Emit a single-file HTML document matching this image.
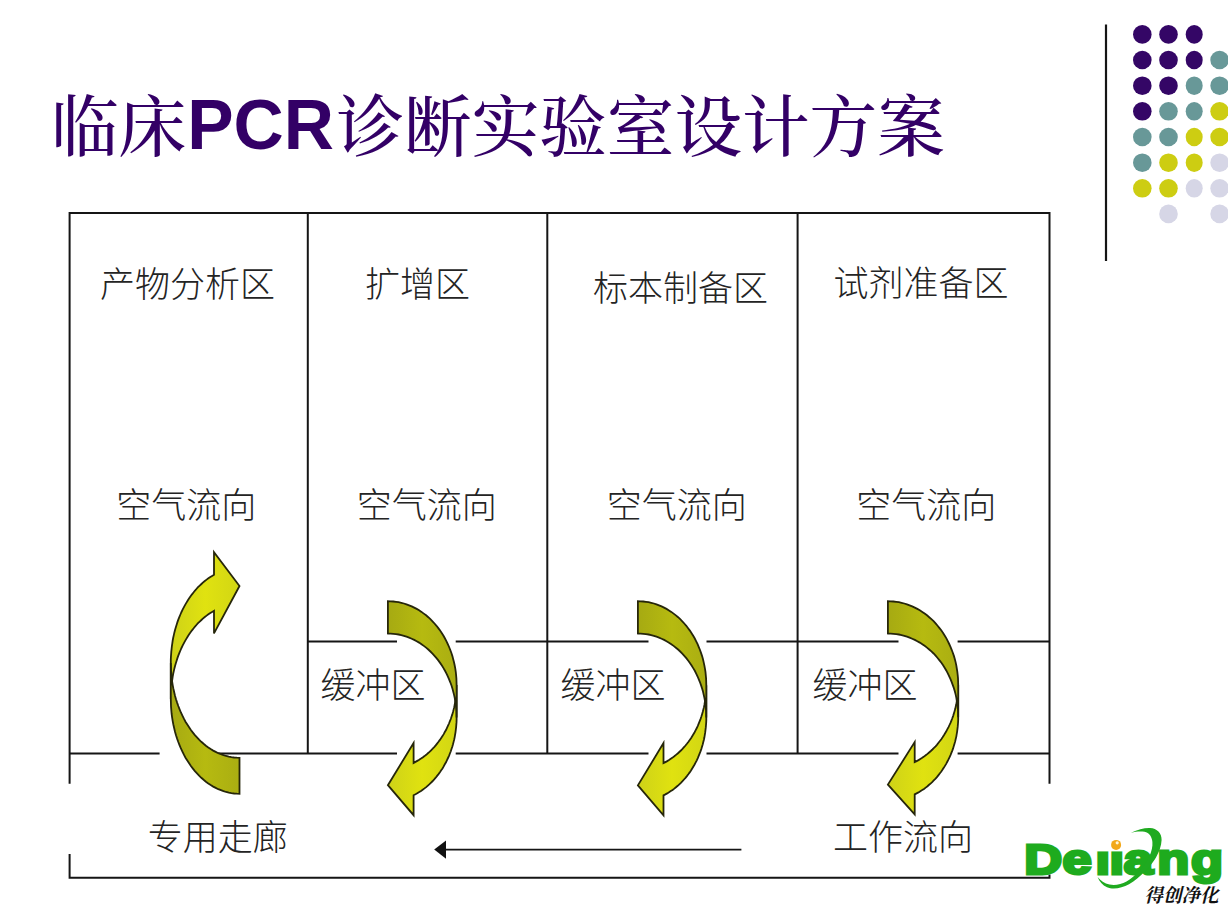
<!DOCTYPE html>
<html lang="zh-CN">
<head>
<meta charset="utf-8">
<title>临床PCR诊断实验室设计方案</title>
<style>
html,body{margin:0;padding:0;background:#fff;}
body{width:1228px;height:910px;overflow:hidden;position:relative;}
svg{display:block;position:absolute;left:0;top:0;}
.lb{font-family:"Liberation Sans","Noto Sans CJK SC",sans-serif;font-weight:300;fill:#242424;}
.title{font-family:"Liberation Sans","Noto Serif CJK SC",serif;fill:#330066;font-size:67.6px;}
.title .cn{font-weight:500;}
.title .en{font-weight:700;font-size:69.5px;}
.logo{font-family:"Liberation Sans",sans-serif;font-weight:700;fill:#1eab1e;stroke:#1eab1e;stroke-width:3.0px;stroke-linejoin:miter;}
.brush{font-family:"Liberation Serif","Noto Serif CJK SC",serif;font-weight:700;fill:#111;font-style:italic;}
</style>
</head>
<body>
<svg width="1228" height="910" viewBox="0 0 1228 910">
<defs>
<linearGradient id="gl" x1="0" y1="0" x2="1" y2="0"><stop offset="0" stop-color="#ced218"/><stop offset="0.5" stop-color="#e0e210"/><stop offset="1" stop-color="#d2d614"/></linearGradient>
<linearGradient id="gd" x1="0" y1="0" x2="1" y2="0"><stop offset="0" stop-color="#a6aa12"/><stop offset="0.5" stop-color="#b6ba10"/><stop offset="1" stop-color="#aaae12"/></linearGradient>
</defs>
<rect width="1228" height="910" fill="#ffffff"/>
<text x="51" y="149" class="title"><tspan class="cn" dy="1.5">临床</tspan><tspan class="en" dy="-1.5" dx="1">PCR</tspan><tspan class="cn" dy="1.5" dx="2.5">诊断实验室设计方案</tspan></text>
<path d="M1106 24.5 V261" stroke="#151515" stroke-width="2.2" fill="none"/>
<g>
<ellipse cx="1142.3" cy="34.4" rx="9.3" ry="9.3" fill="#340666"/>
<ellipse cx="1168.5" cy="34.4" rx="9.3" ry="9.3" fill="#340666"/>
<ellipse cx="1194.2" cy="34.4" rx="8.5" ry="9.3" fill="#340666"/>
<ellipse cx="1142.3" cy="60.0" rx="9.3" ry="9.3" fill="#340666"/>
<ellipse cx="1168.5" cy="60.0" rx="9.3" ry="9.3" fill="#340666"/>
<ellipse cx="1194.2" cy="60.0" rx="8.5" ry="9.3" fill="#340666"/>
<ellipse cx="1219.6" cy="60.0" rx="9.3" ry="9.3" fill="#689898"/>
<ellipse cx="1142.3" cy="85.7" rx="9.3" ry="9.3" fill="#340666"/>
<ellipse cx="1168.5" cy="85.7" rx="9.3" ry="9.3" fill="#340666"/>
<ellipse cx="1194.2" cy="85.7" rx="8.5" ry="9.3" fill="#689898"/>
<ellipse cx="1219.6" cy="85.7" rx="9.3" ry="9.3" fill="#689898"/>
<ellipse cx="1142.3" cy="111.3" rx="9.3" ry="9.3" fill="#340666"/>
<ellipse cx="1168.5" cy="111.3" rx="9.3" ry="9.3" fill="#689898"/>
<ellipse cx="1194.2" cy="111.3" rx="8.5" ry="9.3" fill="#689898"/>
<ellipse cx="1219.6" cy="111.3" rx="9.3" ry="9.3" fill="#cdcd12"/>
<ellipse cx="1142.3" cy="137.0" rx="9.3" ry="9.3" fill="#689898"/>
<ellipse cx="1168.5" cy="137.0" rx="9.3" ry="9.3" fill="#689898"/>
<ellipse cx="1194.2" cy="137.0" rx="8.5" ry="9.3" fill="#cdcd12"/>
<ellipse cx="1219.6" cy="137.0" rx="9.3" ry="9.3" fill="#cdcd12"/>
<ellipse cx="1142.3" cy="162.7" rx="9.3" ry="9.3" fill="#689898"/>
<ellipse cx="1168.5" cy="162.7" rx="9.3" ry="9.3" fill="#cdcd12"/>
<ellipse cx="1194.2" cy="162.7" rx="8.5" ry="9.3" fill="#cdcd12"/>
<ellipse cx="1219.6" cy="162.7" rx="9.3" ry="9.3" fill="#d6d6e6"/>
<ellipse cx="1142.3" cy="188.3" rx="9.3" ry="9.3" fill="#cdcd12"/>
<ellipse cx="1168.5" cy="188.3" rx="9.3" ry="9.3" fill="#cdcd12"/>
<ellipse cx="1194.2" cy="188.3" rx="8.5" ry="9.3" fill="#d6d6e6"/>
<ellipse cx="1219.6" cy="188.3" rx="9.3" ry="9.3" fill="#d6d6e6"/>
<ellipse cx="1168.5" cy="213.9" rx="9.3" ry="9.3" fill="#d6d6e6"/>
<ellipse cx="1219.6" cy="213.9" rx="9.3" ry="9.3" fill="#d6d6e6"/>
</g>

<g stroke="#151515" stroke-width="2" fill="none">
<path d="M69.6 783.8 V212.9 H1049.5 V783.8"/>
<path d="M307.8 212.9 V753.5"/>
<path d="M547.3 212.9 V753.5"/>
<path d="M797.6 212.9 V753.5"/>
<path d="M69.6 753.5 H159.6 M218 753.5 H397 M455.7 753.5 H648.5 M706.5 753.5 H898.5 M957.6 753.5 H1049.5"/>
<path d="M307.8 641.5 H397 M455.7 641.5 H648.5 M706.5 641.5 H898.5 M957.6 641.5 H1049.5"/>
<path d="M69.6 854.1 V877.7 H1049.5 V874.5"/>
<path d="M445 849.6 H741.4" stroke-width="1.8"/>
</g>
<path d="M434.2 849.6 L446 840.4 V858.8 Z" fill="#111"/>

<text x="187.5" y="297" text-anchor="middle" class="lb" font-size="35" >产物分析区</text>
<text x="417.5" y="297" text-anchor="middle" class="lb" font-size="35" >扩增区</text>
<text x="680.5" y="301" text-anchor="middle" class="lb" font-size="35" >标本制备区</text>
<text x="921" y="296" text-anchor="middle" class="lb" font-size="35" >试剂准备区</text>
<text x="186.2" y="518" text-anchor="middle" class="lb" font-size="35" >空气流向</text>
<text x="426.8" y="518" text-anchor="middle" class="lb" font-size="35" >空气流向</text>
<text x="676.8" y="518" text-anchor="middle" class="lb" font-size="35" >空气流向</text>
<text x="926.3" y="518" text-anchor="middle" class="lb" font-size="35" >空气流向</text>
<text x="373" y="698" text-anchor="middle" class="lb" font-size="35" >缓冲区</text>
<text x="613" y="698" text-anchor="middle" class="lb" font-size="35" >缓冲区</text>
<text x="865" y="698" text-anchor="middle" class="lb" font-size="35" >缓冲区</text>
<text x="217.8" y="850" text-anchor="middle" class="lb" font-size="35" >专用走廊</text>
<text x="903" y="850" text-anchor="middle" class="lb" font-size="35" >工作流向</text>
<path d="M170.8 698.9 L170.8 696.1 L170.9 693.3 L171.1 690.4 L171.3 687.6 L171.6 684.8 L171.9 682.0 L172.3 679.3 L172.7 676.5 L173.2 673.8 L173.8 671.1 L174.4 668.4 L175.1 665.7 L175.9 663.1 L176.7 660.5 L177.5 657.9 L178.4 655.4 L179.4 652.9 L180.4 650.5 L181.5 648.0 L182.6 645.7 L183.8 643.4 L185.0 641.1 L186.3 638.9 L187.6 636.7 L189.0 634.6 L190.4 632.6 L191.8 630.6 L193.3 628.7 L194.8 626.8 L196.4 625.0 L198.0 623.2 L199.7 621.6 L201.4 620.0 L203.1 618.4 L204.8 617.0 L206.6 615.6 L208.4 614.3 L210.3 613.0 L212.1 611.9 L214.0 610.8 L214.0 633.4 L239.5 586.0 L214.0 552.2 L214.0 574.8 L214.0 574.8 L212.1 575.9 L210.3 577.0 L208.4 578.3 L206.6 579.6 L204.8 581.0 L203.1 582.4 L201.4 584.0 L199.7 585.6 L198.0 587.2 L196.4 589.0 L194.8 590.8 L193.3 592.7 L191.8 594.6 L190.4 596.6 L189.0 598.6 L187.6 600.7 L186.3 602.9 L185.0 605.1 L183.8 607.4 L182.6 609.7 L181.5 612.0 L180.4 614.5 L179.4 616.9 L178.4 619.4 L177.5 621.9 L176.7 624.5 L175.9 627.1 L175.1 629.7 L174.4 632.4 L173.8 635.1 L173.2 637.8 L172.7 640.5 L172.3 643.3 L171.9 646.0 L171.6 648.8 L171.3 651.6 L171.1 654.4 L170.9 657.3 L170.8 660.1 L170.8 662.9 Z" fill="url(#gl)" stroke="#26260a" stroke-width="1.8" stroke-linejoin="miter"/>
<path d="M239.5 757.8 L236.8 757.7 L234.1 757.5 L231.4 757.1 L228.8 756.6 L226.1 756.0 L223.5 755.2 L220.9 754.2 L218.3 753.2 L215.7 751.9 L213.2 750.6 L210.7 749.1 L208.3 747.5 L205.9 745.7 L203.6 743.8 L201.3 741.8 L199.1 739.7 L197.0 737.4 L194.9 735.1 L192.9 732.6 L190.9 730.0 L189.1 727.3 L187.3 724.5 L185.5 721.7 L183.9 718.7 L182.4 715.6 L180.9 712.5 L179.6 709.3 L178.3 706.0 L177.1 702.6 L176.0 699.2 L175.0 695.7 L174.2 692.2 L173.4 688.7 L172.7 685.1 L172.1 681.4 L171.6 677.7 L171.3 674.1 L171.0 670.3 L170.9 666.6 L170.8 662.9 L170.8 698.9 L170.9 702.6 L171.0 706.3 L171.3 710.1 L171.6 713.7 L172.1 717.4 L172.7 721.1 L173.4 724.7 L174.2 728.2 L175.0 731.7 L176.0 735.2 L177.1 738.6 L178.3 742.0 L179.6 745.3 L180.9 748.5 L182.4 751.6 L183.9 754.7 L185.5 757.7 L187.3 760.5 L189.1 763.3 L190.9 766.0 L192.9 768.6 L194.9 771.1 L197.0 773.4 L199.1 775.7 L201.3 777.8 L203.6 779.8 L205.9 781.7 L208.3 783.5 L210.7 785.1 L213.2 786.6 L215.7 787.9 L218.3 789.2 L220.9 790.2 L223.5 791.2 L226.1 792.0 L228.8 792.6 L231.4 793.1 L234.1 793.5 L236.8 793.7 L239.5 793.8 Z" fill="url(#gd)" stroke="#26260a" stroke-width="1.8" stroke-linejoin="miter"/>
<path d="M456.6 685.1 L456.6 687.6 L456.5 690.1 L456.3 692.6 L456.1 695.0 L455.8 697.5 L455.5 700.0 L455.1 702.4 L454.7 704.8 L454.2 707.2 L453.6 709.6 L453.0 712.0 L452.3 714.4 L451.5 716.7 L450.8 719.0 L449.9 721.2 L449.0 723.5 L448.0 725.7 L447.0 727.8 L446.0 730.0 L444.8 732.0 L443.7 734.1 L442.5 736.1 L441.2 738.0 L439.9 739.9 L438.5 741.8 L437.1 743.6 L435.7 745.4 L434.2 747.1 L432.7 748.7 L431.1 750.3 L429.5 751.9 L427.9 753.3 L426.2 754.8 L424.5 756.1 L422.7 757.4 L421.0 758.6 L419.2 759.8 L417.3 760.9 L415.5 761.9 L413.6 762.9 L413.6 743.0 L387.9 785.2 L413.6 815.2 L413.6 795.2 L413.6 795.2 L415.5 794.2 L417.3 793.2 L419.2 792.1 L421.0 790.9 L422.7 789.7 L424.5 788.4 L426.2 787.1 L427.9 785.6 L429.5 784.2 L431.1 782.6 L432.7 781.0 L434.2 779.4 L435.7 777.7 L437.1 775.9 L438.5 774.1 L439.9 772.2 L441.2 770.3 L442.5 768.4 L443.7 766.4 L444.8 764.3 L446.0 762.3 L447.0 760.1 L448.0 758.0 L449.0 755.8 L449.9 753.5 L450.8 751.3 L451.5 749.0 L452.3 746.7 L453.0 744.3 L453.6 741.9 L454.2 739.5 L454.7 737.1 L455.1 734.7 L455.5 732.3 L455.8 729.8 L456.1 727.3 L456.3 724.9 L456.5 722.4 L456.6 719.9 L456.6 717.4 Z" fill="url(#gl)" stroke="#26260a" stroke-width="1.8" stroke-linejoin="miter"/>
<path d="M387.9 633.5 L390.6 633.6 L393.3 633.8 L396.0 634.1 L398.6 634.5 L401.3 635.1 L403.9 635.8 L406.5 636.7 L409.1 637.6 L411.7 638.7 L414.2 639.9 L416.7 641.2 L419.1 642.6 L421.5 644.2 L423.8 645.9 L426.1 647.6 L428.3 649.5 L430.4 651.5 L432.5 653.6 L434.5 655.8 L436.5 658.1 L438.3 660.4 L440.1 662.9 L441.9 665.5 L443.5 668.1 L445.0 670.8 L446.5 673.6 L447.8 676.4 L449.1 679.3 L450.3 682.3 L451.4 685.3 L452.4 688.4 L453.2 691.5 L454.0 694.6 L454.7 697.8 L455.3 701.0 L455.8 704.3 L456.1 707.5 L456.4 710.8 L456.5 714.1 L456.6 717.4 L456.6 685.1 L456.5 681.8 L456.4 678.5 L456.1 675.2 L455.8 672.0 L455.3 668.7 L454.7 665.5 L454.0 662.3 L453.2 659.2 L452.4 656.1 L451.4 653.0 L450.3 650.0 L449.1 647.0 L447.8 644.1 L446.5 641.3 L445.0 638.5 L443.5 635.8 L441.9 633.2 L440.1 630.6 L438.3 628.1 L436.5 625.8 L434.5 623.5 L432.5 621.3 L430.4 619.2 L428.3 617.2 L426.1 615.3 L423.8 613.6 L421.5 611.9 L419.1 610.3 L416.7 608.9 L414.2 607.6 L411.7 606.4 L409.1 605.3 L406.5 604.4 L403.9 603.5 L401.3 602.8 L398.6 602.2 L396.0 601.8 L393.3 601.5 L390.6 601.3 L387.9 601.2 Z" fill="url(#gd)" stroke="#26260a" stroke-width="1.8" stroke-linejoin="miter"/>
<path d="M706.3 685.2 L706.3 687.7 L706.2 690.2 L706.0 692.7 L705.8 695.1 L705.5 697.6 L705.2 700.1 L704.8 702.5 L704.4 705.0 L703.9 707.4 L703.3 709.8 L702.7 712.1 L702.0 714.5 L701.3 716.8 L700.5 719.1 L699.6 721.4 L698.7 723.6 L697.8 725.8 L696.8 728.0 L695.7 730.1 L694.6 732.2 L693.4 734.2 L692.2 736.2 L691.0 738.2 L689.7 740.1 L688.3 742.0 L686.9 743.8 L685.5 745.5 L684.0 747.2 L682.5 748.9 L680.9 750.5 L679.3 752.0 L677.7 753.5 L676.0 754.9 L674.3 756.3 L672.6 757.6 L670.8 758.8 L669.0 760.0 L667.2 761.1 L665.4 762.1 L663.5 763.1 L663.5 743.1 L637.9 785.4 L663.5 815.3 L663.5 795.4 L663.5 795.4 L665.4 794.4 L667.2 793.4 L669.0 792.3 L670.8 791.1 L672.6 789.9 L674.3 788.6 L676.0 787.2 L677.7 785.8 L679.3 784.3 L680.9 782.8 L682.5 781.2 L684.0 779.5 L685.5 777.8 L686.9 776.1 L688.3 774.3 L689.7 772.4 L691.0 770.5 L692.2 768.5 L693.4 766.5 L694.6 764.5 L695.7 762.4 L696.8 760.3 L697.8 758.1 L698.7 755.9 L699.6 753.7 L700.5 751.4 L701.3 749.1 L702.0 746.8 L702.7 744.4 L703.3 742.1 L703.9 739.7 L704.4 737.3 L704.8 734.8 L705.2 732.4 L705.5 729.9 L705.8 727.4 L706.0 725.0 L706.2 722.5 L706.3 720.0 L706.3 717.5 Z" fill="url(#gl)" stroke="#26260a" stroke-width="1.8" stroke-linejoin="miter"/>
<path d="M637.9 633.5 L640.6 633.6 L643.3 633.8 L645.9 634.1 L648.6 634.5 L651.2 635.1 L653.9 635.8 L656.5 636.7 L659.0 637.6 L661.6 638.7 L664.1 639.9 L666.5 641.2 L669.0 642.7 L671.3 644.2 L673.6 645.9 L675.9 647.7 L678.1 649.5 L680.2 651.5 L682.3 653.6 L684.3 655.8 L686.3 658.1 L688.1 660.5 L689.9 662.9 L691.6 665.5 L693.2 668.1 L694.8 670.8 L696.2 673.6 L697.6 676.5 L698.8 679.4 L700.0 682.3 L701.1 685.4 L702.1 688.4 L703.0 691.5 L703.7 694.7 L704.4 697.9 L705.0 701.1 L705.5 704.4 L705.8 707.6 L706.1 710.9 L706.2 714.2 L706.3 717.5 L706.3 685.2 L706.2 681.9 L706.1 678.6 L705.8 675.3 L705.5 672.1 L705.0 668.8 L704.4 665.6 L703.7 662.4 L703.0 659.2 L702.1 656.1 L701.1 653.1 L700.0 650.0 L698.8 647.1 L697.6 644.2 L696.2 641.3 L694.8 638.5 L693.2 635.8 L691.6 633.2 L689.9 630.6 L688.1 628.2 L686.3 625.8 L684.3 623.5 L682.3 621.3 L680.2 619.2 L678.1 617.2 L675.9 615.4 L673.6 613.6 L671.3 611.9 L669.0 610.4 L666.5 608.9 L664.1 607.6 L661.6 606.4 L659.0 605.3 L656.5 604.4 L653.9 603.5 L651.2 602.8 L648.6 602.2 L645.9 601.8 L643.3 601.5 L640.6 601.3 L637.9 601.2 Z" fill="url(#gd)" stroke="#26260a" stroke-width="1.8" stroke-linejoin="miter"/>
<path d="M958.2 684.8 L958.2 687.3 L958.1 689.7 L957.9 692.2 L957.7 694.6 L957.4 697.1 L957.1 699.5 L956.7 701.9 L956.3 704.3 L955.7 706.7 L955.2 709.1 L954.5 711.4 L953.8 713.8 L953.1 716.1 L952.3 718.3 L951.4 720.6 L950.5 722.8 L949.5 725.0 L948.5 727.1 L947.4 729.2 L946.3 731.3 L945.1 733.3 L943.9 735.3 L942.6 737.3 L941.3 739.2 L939.9 741.0 L938.5 742.8 L937.1 744.6 L935.6 746.3 L934.0 747.9 L932.4 749.5 L930.8 751.0 L929.1 752.5 L927.5 753.9 L925.7 755.3 L924.0 756.6 L922.2 757.8 L920.3 759.0 L918.5 760.1 L916.6 761.1 L914.7 762.1 L914.7 742.1 L887.9 784.6 L914.7 814.3 L914.7 794.4 L914.7 794.4 L916.6 793.4 L918.5 792.4 L920.3 791.3 L922.2 790.1 L924.0 788.9 L925.7 787.6 L927.5 786.2 L929.1 784.8 L930.8 783.3 L932.4 781.8 L934.0 780.2 L935.6 778.6 L937.1 776.9 L938.5 775.1 L939.9 773.3 L941.3 771.5 L942.6 769.6 L943.9 767.6 L945.1 765.6 L946.3 763.6 L947.4 761.5 L948.5 759.4 L949.5 757.3 L950.5 755.1 L951.4 752.9 L952.3 750.6 L953.1 748.4 L953.8 746.1 L954.5 743.7 L955.2 741.4 L955.7 739.0 L956.3 736.6 L956.7 734.2 L957.1 731.8 L957.4 729.4 L957.7 726.9 L957.9 724.5 L958.1 722.0 L958.2 719.6 L958.2 717.1 Z" fill="url(#gl)" stroke="#26260a" stroke-width="1.8" stroke-linejoin="miter"/>
<path d="M887.9 633.5 L890.7 633.6 L893.4 633.8 L896.2 634.1 L898.9 634.5 L901.6 635.1 L904.3 635.8 L907.0 636.6 L909.6 637.6 L912.2 638.7 L914.8 639.9 L917.3 641.2 L919.8 642.6 L922.3 644.2 L924.6 645.8 L927.0 647.6 L929.2 649.5 L931.4 651.4 L933.6 653.5 L935.6 655.7 L937.6 658.0 L939.5 660.4 L941.4 662.8 L943.1 665.3 L944.8 668.0 L946.4 670.7 L947.8 673.4 L949.2 676.3 L950.5 679.1 L951.7 682.1 L952.8 685.1 L953.9 688.2 L954.8 691.3 L955.6 694.4 L956.3 697.6 L956.8 700.8 L957.3 704.0 L957.7 707.3 L958.0 710.5 L958.1 713.8 L958.2 717.1 L958.2 684.8 L958.1 681.5 L958.0 678.2 L957.7 675.0 L957.3 671.7 L956.8 668.5 L956.3 665.3 L955.6 662.1 L954.8 659.0 L953.9 655.9 L952.8 652.8 L951.7 649.8 L950.5 646.8 L949.2 644.0 L947.8 641.1 L946.4 638.4 L944.8 635.7 L943.1 633.0 L941.4 630.5 L939.5 628.1 L937.6 625.7 L935.6 623.4 L933.6 621.2 L931.4 619.1 L929.2 617.2 L927.0 615.3 L924.6 613.5 L922.3 611.9 L919.8 610.3 L917.3 608.9 L914.8 607.6 L912.2 606.4 L909.6 605.3 L907.0 604.3 L904.3 603.5 L901.6 602.8 L898.9 602.2 L896.2 601.8 L893.4 601.5 L890.7 601.3 L887.9 601.2 Z" fill="url(#gd)" stroke="#26260a" stroke-width="1.8" stroke-linejoin="miter"/>

<g id="logo">
<g transform="translate(1026,873.9) scale(1.235,1)">
<text class="logo" font-size="42.5" x="-1.5 29.6 56.2 67.7 79.2 106.3 133.6" y="0">Deiiang</text>
</g>
<rect x="1094" y="836" width="30" height="15.4" fill="#fff"/>
<path d="M1131 832.8 C1138 829.5 1144 827.8 1150 828 C1157 828.4 1161.8 833 1161.6 840 C1161.4 846 1159 852 1156 857.5 C1151 866 1141 877 1129 884.3 C1122 888.3 1113 889.8 1107 887.3 C1102.5 885.3 1099.3 881.5 1097.6 877 C1100.5 880.6 1104.5 883.6 1109.5 884.6 C1115 885.6 1121 884.6 1126.5 881.6 C1136 876 1145 865.5 1149.3 856.5 C1151.6 851.5 1152.8 846.5 1152.4 842 C1152 837 1149.3 832.8 1144.5 831.8 C1140.5 831 1135.5 831.5 1131 832.8 Z" fill="#1faa20"/>
<circle cx="1116.1" cy="844.9" r="5" fill="#f2a81a"/>
<circle cx="1117.2" cy="842.8" r="1.6" fill="#fff6d8"/>
<text class="brush" font-size="19" x="1144.5" y="902.3" textLength="74" lengthAdjust="spacingAndGlyphs">得创净化</text>
</g>

</svg>
</body>
</html>
